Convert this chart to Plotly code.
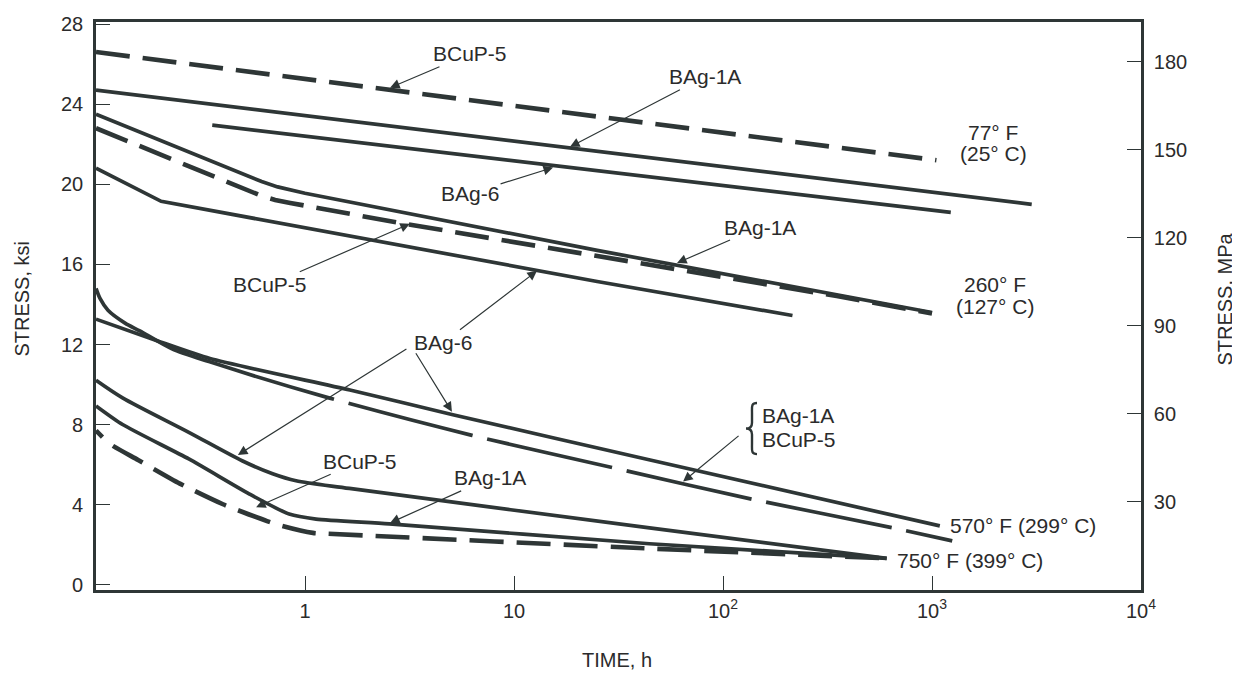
import plotly.graph_objects as go

# ---------------- data: time (h) vs stress (ksi) ----------------
t_77_bcup5 = [0.1, 1050]
s_77_bcup5 = [26.6, 21.2]
t_77_bag1a = [0.1, 3000]
s_77_bag1a = [24.7, 19.0]
t_77_bag6 = [0.36, 1230]
s_77_bag6 = [22.95, 18.6]

t_260_bag1a = [0.1, 0.62, 0.74, 0.86, 1.0, 25, 350, 1000]
s_260_bag1a = [23.5, 20.14, 19.87, 19.7, 19.55, 16.7, 14.5, 13.6]
t_260_bcup5 = [0.1, 0.52, 0.62, 0.72, 0.85, 2.8, 25, 350, 1000]
s_260_bcup5 = [22.8, 19.72, 19.42, 19.22, 19.07, 18.08, 16.4, 14.42, 13.55]
t_260_bag6 = [0.1, 0.205, 25, 215]
s_260_bag6 = [20.8, 19.15, 15.15, 13.45]

t_570_bag6 = [0.1, 0.196, 0.351, 1.64, 5.1, 44.8, 1090]
s_570_bag6 = [13.27, 12.19, 11.30, 9.73, 8.50, 6.24, 2.95]
t_570_bag1a_bcup5 = [0.1, 0.1045, 0.1141, 0.1377, 0.162, 0.231, 0.347, 1.3, 6.3, 34.5, 138, 650, 1250]
s_570_bag1a_bcup5 = [14.8, 14.30, 13.71, 13.07, 12.68, 11.79, 11.15, 9.34, 7.47, 5.70, 4.28, 2.85, 2.2]

t_750_bag6 = [0.1, 0.134, 0.278, 0.5, 0.7, 0.906, 1.63, 44.5, 607]
s_750_bag6 = [10.22, 9.34, 7.62, 6.2, 5.55, 5.2, 4.82, 2.85, 1.33]
t_750_bag1a = [0.1, 0.134, 0.278, 0.54, 0.84, 1.13, 2.53, 44.5, 607]
s_750_bag1a = [8.94, 8.01, 6.29, 4.55, 3.54, 3.29, 3.05, 2.06, 1.33]
t_750_bcup5 = [0.1, 0.117, 0.159, 0.252, 0.405, 0.658, 0.776, 1.09, 1.29, 44.5, 607]
s_750_bcup5 = [7.71, 7.03, 6.24, 5.06, 4.03, 3.19, 2.95, 2.60, 2.56, 1.82, 1.33]

x_tick_vals = [1, 10, 100, 1000, 10000]
x_tick_text = ["1", "10", "10<sup>2</sup>", "10<sup>3</sup>", "10<sup>4</sup>"]
y_tick_vals = [0, 4, 8, 12, 16, 20, 24, 28]
y2_tick_vals = [30, 60, 90, 120, 150, 180]

# ---------------- style ----------------
LC = "#2e3636"
TC = "#2b2b2b"
FONT = "Liberation Sans, Arial, sans-serif"
SOLID_W = 3.7
DASH_W = 4.6
DASH = "34px,13px"
DASH_750 = "9px,14px," + ",".join(["34px,13px"] * 22)
LONGDASH = "270px,15px," + ",".join(["128px,15px"] * 7)

fig = go.Figure()


def add_line(t, s, dash="solid", width=SOLID_W, shape="linear", smoothing=0.6):
    fig.add_trace(go.Scatter(x=t, y=s, mode="lines",
                             line=dict(color=LC, width=width, dash=dash, shape=shape,
                                       smoothing=smoothing),
                             hoverinfo="skip", showlegend=False))


add_line(t_77_bcup5, s_77_bcup5, dash=DASH, width=DASH_W)
add_line(t_77_bag1a, s_77_bag1a)
add_line(t_77_bag6, s_77_bag6)
add_line(t_260_bag1a, s_260_bag1a)
add_line(t_260_bcup5, s_260_bcup5, dash=DASH, width=DASH_W)
add_line(t_260_bag6, s_260_bag6)
add_line(t_570_bag6, s_570_bag6, shape="spline")
add_line(t_570_bag1a_bcup5, s_570_bag1a_bcup5, dash=LONGDASH, shape="spline", smoothing=0.8)
add_line(t_750_bag6, s_750_bag6, shape="spline", smoothing=0.8)
add_line(t_750_bag1a, s_750_bag1a, shape="spline")
add_line(t_750_bcup5, s_750_bcup5, dash=DASH_750, width=DASH_W, shape="spline")

# helper trace so the MPa axis is drawn
fig.add_trace(go.Scatter(x=[0.1], y=[0], yaxis="y2", mode="lines",
                         line=dict(width=0), hoverinfo="skip", showlegend=False))

ARROW = dict(arrowhead=2, arrowsize=1.6, arrowwidth=1.2, arrowcolor=LC, standoff=0)


def label(text, lx, y, anchor="center", size=21):
    fig.add_annotation(x=lx, y=y, xref="x", yref="y", text=text, showarrow=False,
                       xanchor=anchor, yanchor="middle",
                       font=dict(family=FONT, size=size, color=TC))


def pointer(text, lx, y, ax, ay, size=21):
    # arrow tip at (lx, y); text centred ax/ay pixels away
    fig.add_annotation(x=lx, y=y, xref="x", yref="y", text=text, showarrow=True,
                       ax=ax, ay=ay, xanchor="center", yanchor="middle",
                       font=dict(family=FONT, size=size, color=TC), **ARROW)


def arrow(lx, y, ax, ay):
    fig.add_annotation(x=lx, y=y, xref="x", yref="y", text="", showarrow=True,
                       ax=ax, ay=ay, **ARROW)


# labels (x given as log10(h) on the log axis)
pointer("BCuP-5", 0.407, 24.82, 80, -34)
pointer("BAg-1A", 1.268, 21.87, 135, -70)
pointer("BAg-6", 1.187, 20.84, -83, 26)
pointer("BAg-1A", 1.78, 16.07, 83, -36)
pointer("BCuP-5", 0.502, 18.03, -140, 61)
pointer("BAg-6", 1.110, 15.68, -94, 72)
arrow(0.703, 8.65, -37, -60)
arrow(-0.321, 6.49, 170, -107)
pointer("BCuP-5", -0.234, 3.88, 104, -46)
pointer("BAg-1A", 0.407, 3.10, 100, -45)
label("BAg-1A", 2.177, 8.46, anchor="left")
label("BCuP-5", 2.177, 7.28, anchor="left")
arrow(1.809, 5.16, 57, -47)

label("77° F", 3.292, 22.6)
label("(25° C)", 3.292, 21.52)
label("260° F", 3.301, 15.0)
label("(127° C)", 3.301, 13.92)
label("570° F (299° C)", 3.077, 2.95, anchor="left")
label("750° F (399° C)", 2.823, 1.23, anchor="left")

# plot-area geometry (screen pixels) used for paper-referenced decorations
PL, PW, PB, PH = 96, 1045, 590, 577


def px(x):
    return (x - PL) / PW


def py(y):
    return (PB - y) / PH


brace = (f"M {px(757)},{py(400)} C {px(751)},{py(400)} {px(752)},{py(404)} {px(752)},{py(410)} "
         f"L {px(752)},{py(420)} C {px(752)},{py(424)} {px(750)},{py(426)} {px(746)},{py(426)} "
         f"C {px(750)},{py(426)} {px(752)},{py(428)} {px(752)},{py(432)} "
         f"L {px(752)},{py(442)} C {px(752)},{py(448)} {px(751)},{py(452)} {px(757)},{py(452)}")
fig.add_shape(type="path", path=brace, xref="paper", yref="paper",
              line=dict(color=LC, width=2.4))

# axis titles
TITLE_FONT = dict(family=FONT, size=20, color=TC)
fig.add_annotation(x=px(22), y=py(294), xref="paper", yref="paper", text="STRESS, ksi",
                   textangle=-90, showarrow=False, xanchor="center", yanchor="middle",
                   font=TITLE_FONT)
fig.add_annotation(x=px(1225), y=py(295), xref="paper", yref="paper", text="STRESS, MPa",
                   textangle=-90, showarrow=False, xanchor="center", yanchor="middle",
                   font=TITLE_FONT)
fig.add_annotation(x=px(617), y=py(661), xref="paper", yref="paper", text="TIME, h",
                   showarrow=False, xanchor="center", yanchor="middle", font=TITLE_FONT)

axis_common = dict(showgrid=False, zeroline=False, showline=True, linecolor=LC, linewidth=2.6,
                   ticks="inside", ticklen=14, tickwidth=1.4, tickcolor=LC,
                   ticklabeloverflow="allow",
                   tickfont=dict(family=FONT, size=20, color=TC))

# page body has an 8px margin, so the figure is 8px smaller each way
fig.update_layout(
    width=1232, height=667,
    margin=dict(l=88, r=99, t=5, b=85),
    paper_bgcolor="white", plot_bgcolor="white",
    xaxis=dict(type="log", range=[-1, 4], tickmode="array", tickvals=x_tick_vals,
               ticktext=x_tick_text, mirror=True, ticklabelstandoff=1, **axis_common),
    yaxis=dict(range=[-0.25, 28.1], tickmode="array", tickvals=y_tick_vals,
               ticklabelstandoff=6, **axis_common),
    yaxis2=dict(range=[0, 193.5], overlaying="y", side="right", tickmode="array",
                tickvals=y2_tick_vals, ticklabelstandoff=6, **axis_common),
)

fig.write_html("out.html")
